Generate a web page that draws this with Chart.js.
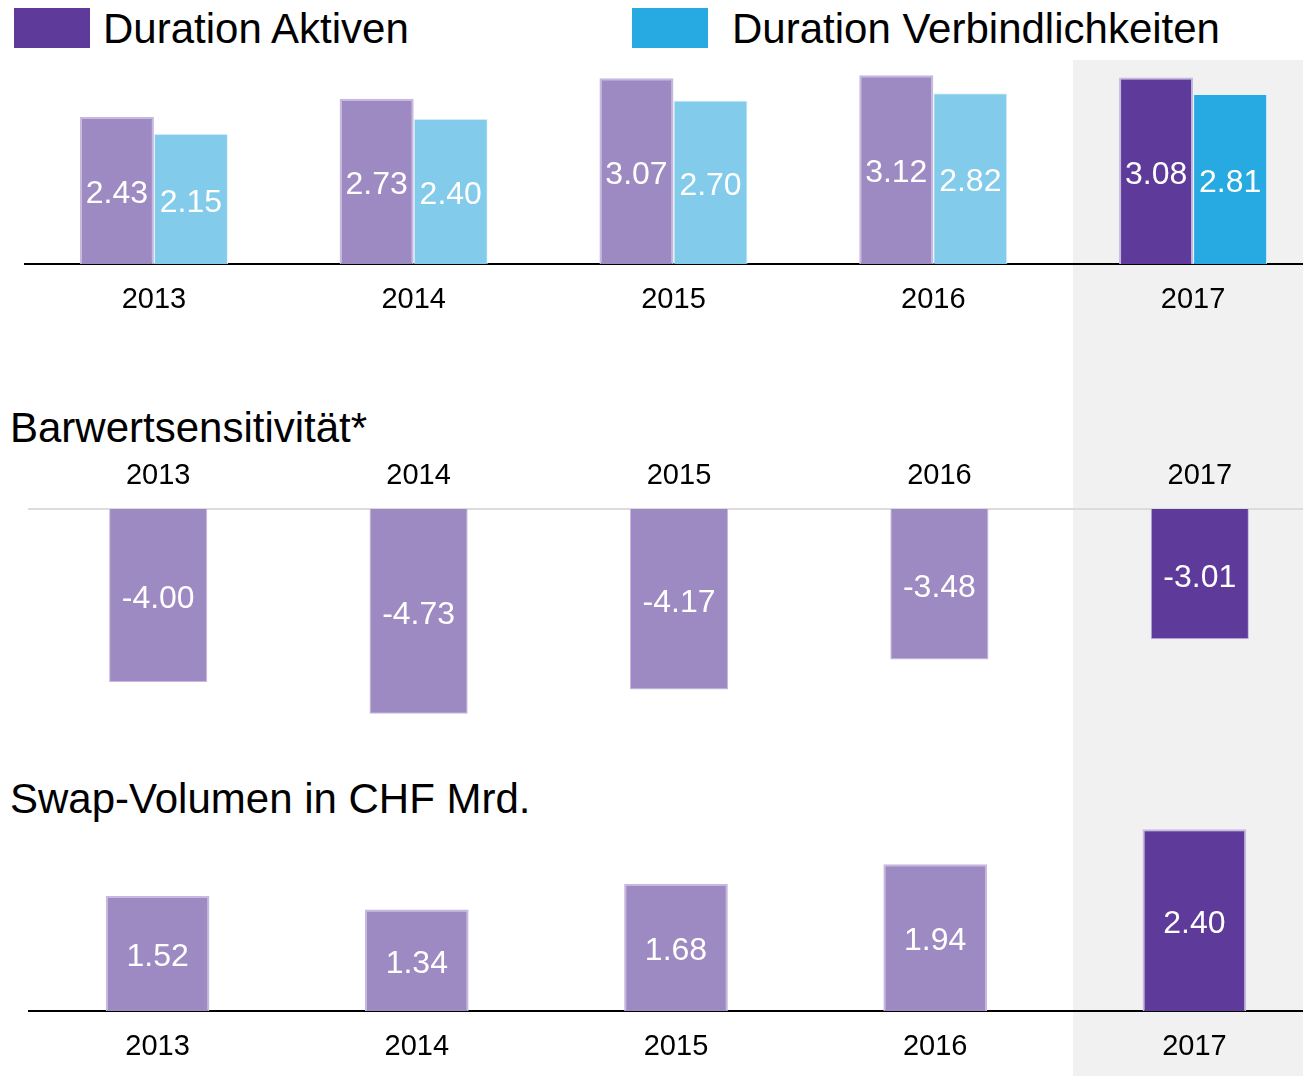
<!DOCTYPE html>
<html lang="de">
<head>
<meta charset="utf-8">
<title>Duration, Barwertsensitivität, Swap-Volumen</title>
<script src="https://cdn.jsdelivr.net/npm/chart.js@4"></script>
<style>
    html, body {
        margin: 0;
        padding: 0;
        width: 1303px;
        height: 1076px;
        overflow: hidden;
        background: #ffffff;
        font-family: "Liberation Sans", Arial, sans-serif;
    }
    .highlight {
        position: absolute;
        left: 1073px;
        top: 60px;
        width: 230px;
        height: 1016px;
        background: #f1f1f1;
    }
    .box {
        position: absolute;
        width: 76px;
        height: 40px;
    }
    .label {
        position: absolute;
        font-size: 42px;
        line-height: 42px;
        color: #000;
        white-space: nowrap;
    }
    canvas {
        position: absolute;
    }
</style>
</head>
<body>

<div class="highlight"></div>

<div class="box" style="left:14px; top:8px; background:#5e3a9a;"></div>
<div class="label" style="left:103px; top:8px;">Duration Aktiven</div>
<div class="box" style="left:632px; top:8px; background:#27aae1;"></div>
<div class="label" style="left:732px; top:8px;">Duration Verbindlichkeiten</div>

<div class="label" style="left:10px; top:407px;">Barwertsensitivität*</div>
<div class="label" style="left:10px; top:778px;">Swap-Volumen in CHF Mrd.</div>

<canvas id="durationChart" style="left:24px; top:60px;" width="1299" height="264"></canvas>
<canvas id="barwertChart" style="left:28px; top:449px;" width="1302" height="311"></canvas>
<canvas id="swapChart" style="left:28px; top:820px;" width="1296" height="251"></canvas>

<script>
const years = ['2013', '2014', '2015', '2016', '2017'];

const durationAktiven = [2.43, 2.73, 3.07, 3.12, 3.08];
const durationVerbindlichkeiten = [2.15, 2.40, 2.70, 2.82, 2.81];

const barwertsensitivitaet = [-4.00, -4.73, -4.17, -3.48, -3.01];

const swapVolumen = [1.52, 1.34, 1.68, 1.94, 2.40];

const purpleLight = '#9e8ac2';
const purpleDark = '#5e3a9a';
const blueLight = '#82cbea';
const blueDark = '#27aae1';

const FONT = '"Liberation Sans", Arial, sans-serif';

// last year is highlighted with the strong colour
function barColors(light, dark) {
    return years.map((y, i) => i === years.length - 1 ? dark : light);
}

const valueLabels = {
    id: 'valueLabels',
    afterDatasetsDraw(chart) {
        const ctx = chart.ctx;
        ctx.save();
        ctx.fillStyle = '#ffffff';
        ctx.font = '32px ' + FONT;
        ctx.textAlign = 'center';
        ctx.textBaseline = 'middle';
        chart.data.datasets.forEach((ds, di) => {
            const meta = chart.getDatasetMeta(di);
            meta.data.forEach((bar, i) => {
                const p = bar.getProps(['x', 'y', 'base'], true);
                ctx.fillText(ds.data[i].toFixed(2), p.x, (p.y + p.base) / 2 + 4);
            });
        });
        ctx.restore();
    }
};

function xAxis(position, borderColor, padding) {
    return {
        position: position,
        grid: { display: false, drawTicks: false },
        border: { display: true, color: borderColor, width: 2 },
        ticks: {
            color: '#000000',
            padding: padding,
            font: { family: FONT, size: 29 }
        },
        afterFit: scale => { scale.height = 60; }
    };
}

function yAxis(min, max) {
    return {
        display: false,
        min: min,
        max: max
    };
}

const baseOptions = {
    responsive: false,
    animation: false,
    layout: { padding: 0 },
    plugins: {
        legend: { display: false },
        tooltip: { enabled: false }
    }
};

new Chart(document.getElementById('durationChart'), {
    type: 'bar',
    data: {
        labels: years,
        datasets: [
            {
                label: 'Duration Aktiven',
                data: durationAktiven,
                backgroundColor: barColors(purpleLight, purpleDark),
                borderColor: '#c6b8de',
                borderWidth: 2,
                borderSkipped: 'start'
            },
            {
                label: 'Duration Verbindlichkeiten',
                data: durationVerbindlichkeiten,
                backgroundColor: barColors(blueLight, blueDark),
                borderColor: '#e4f4fb',
                borderWidth: 1,
                borderSkipped: 'start'
            }
        ]
    },
    options: {
        ...baseOptions,
        datasets: { bar: { categoryPercentage: 0.57, barPercentage: 1.0 } },
        scales: {
            x: xAxis('bottom', '#000000', 19),
            y: yAxis(0, 3.37)
        }
    },
    plugins: [valueLabels]
});

new Chart(document.getElementById('barwertChart'), {
    type: 'bar',
    data: {
        labels: years,
        datasets: [{
            label: 'Barwertsensitivität',
            data: barwertsensitivitaet,
            backgroundColor: barColors(purpleLight, purpleDark),
            borderColor: '#c6b8de',
            borderWidth: 1,
            borderSkipped: 'start'
        }]
    },
    options: {
        ...baseOptions,
        datasets: { bar: { categoryPercentage: 0.377, barPercentage: 1.0 } },
        scales: {
            x: xAxis('top', '#dcdcdc', 16),
            y: yAxis(-5.80, 0)
        }
    },
    plugins: [valueLabels]
});

new Chart(document.getElementById('swapChart'), {
    type: 'bar',
    data: {
        labels: years,
        datasets: [{
            label: 'Swap-Volumen in CHF Mrd.',
            data: swapVolumen,
            backgroundColor: barColors(purpleLight, purpleDark),
            borderColor: '#c6b8de',
            borderWidth: 2,
            borderSkipped: 'start'
        }]
    },
    options: {
        ...baseOptions,
        datasets: { bar: { categoryPercentage: 0.40, barPercentage: 1.0 } },
        scales: {
            x: xAxis('bottom', '#000000', 19),
            y: yAxis(0, 2.523)
        }
    },
    plugins: [valueLabels]
});
</script>
</body>
</html>
